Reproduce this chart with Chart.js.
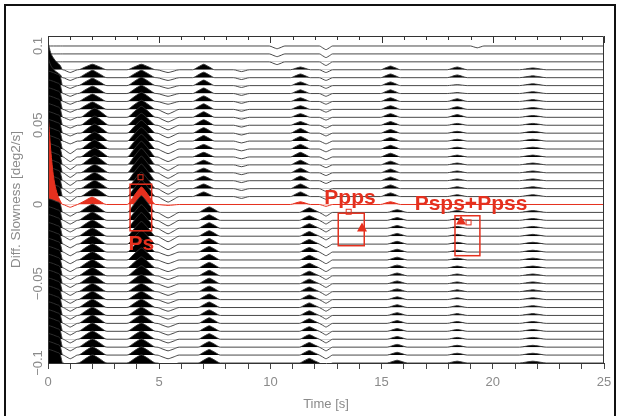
<!DOCTYPE html>
<html lang="en">
<head>
<meta charset="UTF-8">
<title>Slowness stack</title>
<script src="https://cdn.jsdelivr.net/npm/chart.js@4.4.1/dist/chart.umd.min.js"></script>
<style>
  html, body { margin: 0; padding: 0; background: #fff; overflow: hidden; }
  #wrap { position: relative; width: 620px; height: 416px; }
  #frame { position: absolute; left: 4px; top: 4px; width: 612px; height: 430px;
           box-sizing: border-box; border: 2px solid #111; pointer-events: none; }
</style>
</head>
<body>
<div id="wrap">
  <canvas id="chart" width="620" height="416"></canvas>
  <div id="frame"></div>
</div>
<script>
// slowness of each stacked trace (deg2/s), top to bottom
const slowness = [
  0.1, 0.095, 0.09, 0.085, 0.08, 0.075, 0.07, 0.065, 0.06, 0.055,
  0.05, 0.045, 0.04, 0.035, 0.03, 0.025, 0.02, 0.015, 0.01, 0.005,
  0,
  -0.005, -0.01, -0.015, -0.02, -0.025, -0.03, -0.035, -0.04, -0.045, -0.05,
  -0.055, -0.06, -0.065, -0.07, -0.075, -0.08, -0.085, -0.09, -0.095, -0.1
];
const zeroTrace = 20;          // drawn in red
const timeTicks = [0, 5, 10, 15, 20, 25];
const slownessTicks = [0.1, 0.05, 0, -0.05, -0.1];

// direct P wavelet (relative amplitude at these times, s)
const pTime = [0, 0.12, 0.25, 0.4, 0.55, 0.66];
const pShape = [1, 0.95, 0.88, 0.78, 0.62, 0];
const pShapeTop = [1, 0.62, 0.42, 0.27, 0.15, 0];
const pShapeZero = [1, 0.6, 0.3, 0.13, 0.04, 0];
// shape of the later pulses, offsets in half-widths
const pulseOffset = [-1, -0.55, -0.2, 0, 0.2, 0.55, 1];
const pulseShape = [0, 0.45, 0.84, 1, 0.84, 0.45, 0];

// amplitudes in % of the direct P on the zero trace
const ampP = [
  0, 0, 0, 30, 22, 16, 15, 15, 15, 15,
  15, 15, 15, 15, 15, 15, 15, 15, 15, 15,
  100,
  15, 15, 15, 15, 15, 15, 15, 15, 15, 15,
  15, 15, 15, 15, 15, 15, 15, 15, 15, 15
];
const ampDip1 = [
  0, 0, 0, -3, -3, -3, -3, -3, -3, -3,
  -3, -3, -3, -5, -5, -5, -5, -5, -5, -5,
  -3,
  -4, -4, -4, -4, -4, -4, -4, -4, -4, -4,
  -4, -4, -4, -4, -4, -4, -4, -4, -4, -4
];
const timeB = [
  2.0, 2.0, 2.0, 2.0, 2.0, 2.0, 2.0, 2.0, 2.0, 2.1,
  2.1, 2.1, 2.1, 2.1, 2.1, 2.1, 2.1, 2.1, 2.1, 2.1,
  1.98,
  2.0, 2.0, 2.0, 2.0, 2.0, 2.0, 2.0, 2.0, 2.0, 2.0,
  2.0, 2.0, 2.0, 2.0, 2.0, 2.0, 2.0, 2.0, 2.0, 2.0
];
const ampB = [
  0, 0, 0, 6, 8, 8, 8, 8, 8, 10,
  10, 10, 10, 10, 10, 10, 9, 9, 9, 9,
  8,
  9, 9, 9, 9, 9, 9, 9, 9, 9, 9,
  9, 9, 9, 9, 9, 9, 9, 9, 9, 9
];
const ampPs = [
  0, 0, 0, 6, 8, 9, 9, 10, 10, 12,
  13, 14, 15, 16, 17, 18, 18, 18, 18, 18,
  19,
  18, 17, 17, 16, 15, 14, 13, 12, 11, 10,
  9, 9, 9, 9, 9, 9, 9, 9, 9, 9
];
const ampDip2 = [
  0, 0, 0, -3, -3, -3, -3, -3, -5, -5,
  -5, -5, -5, -5, -5, -6, -6, -6, -6, -6,
  -1,
  -6, -6, -6, -6, -6, -4, -4, -4, -4, -4,
  -4, -4, -4, -4, -4, -4, -4, -4, -4, -4
];
const timeD = [
  7.0, 7.0, 7.0, 7.0, 7.0, 7.0, 7.0, 7.0, 7.0, 7.0,
  7.0, 7.0, 7.0, 7.0, 7.0, 7.0, 7.0, 7.0, 7.0, 7.0,
  7.0,
  7.25, 7.25, 7.25, 7.25, 7.25, 7.25, 7.25, 7.25, 7.25, 7.25,
  7.25, 7.25, 7.25, 7.25, 7.25, 7.25, 7.25, 7.25, 7.25, 7.25
];
const ampD = [
  0, 0, 0, 6, 6, 6, 6, 6, 6, 6,
  6, 6, 6, 5, 5, 5, 5, 5, 5, 5,
  0,
  6, 6, 6, 6, 6, 6, 6, 6, 6, 6,
  6, 6, 6, 6, 6, 6, 6, 6, 6, 6
];
const ampE = [
  0, 0, 0, -2, -2, -2, -2, -2, -2, -2,
  -2, -2, -2, -2, -2, -2, -2, -2, -2, -2,
  0,
  0, 0, 0, 0, 0, 0, 0, 0, 0, 0,
  0, 0, 0, 0, 0, 0, 0, 0, 0, 0
];
const ampDip10 = [
  -3, -3, -3, 0, 0, 0, 0, 0, 0, 0,
  0, 0, 0, 0, 0, 0, 0, 0, 0, 0,
  0,
  0, 0, 0, 0, 0, 0, 0, 0, 0, 0,
  0, 0, 0, 0, 0, 0, 0, 0, 0, 0
];
const timeF = [
  11.35, 11.35, 11.35, 11.35, 11.35, 11.35, 11.35, 11.35, 11.35, 11.35,
  11.35, 11.35, 11.35, 11.35, 11.35, 11.35, 11.35, 11.35, 11.35, 11.35,
  11.35,
  11.75, 11.75, 11.75, 11.75, 11.75, 11.75, 11.75, 11.75, 11.75, 11.75,
  11.75, 11.75, 11.75, 11.75, 11.75, 11.75, 11.75, 11.75, 11.75, 11.75
];
const ampF = [
  0, 0, 0, 3, 4, 4, 4, 4, 4, 4,
  4, 5, 5, 5, 5, 5, 5, 5, 5, 5,
  3,
  5, 5, 5, 5, 5, 5, 5, 5, 5, 5,
  5, 5, 5, 5, 5, 5, 5, 5, 5, 5
];
const ampDip3 = [
  -4, -4, -4, -3, -3, -3, -3, -3, -3, -3,
  -3, -3, -3, -3, -3, -3, -3, -3, -3, -3,
  -2,
  -4, -4, -4, -4, -4, -4, -4, -4, -4, -4,
  -4, -4, -4, -4, -4, -4, -4, -4, -4, -4
];
const timeH = [
  15.4, 15.4, 15.4, 15.4, 15.4, 15.4, 15.4, 15.4, 15.4, 15.4,
  15.4, 15.4, 15.4, 15.4, 15.4, 15.4, 15.4, 15.4, 15.4, 15.4,
  15.4,
  15.7, 15.7, 15.7, 15.7, 15.7, 15.7, 15.7, 15.7, 15.7, 15.7,
  15.7, 15.7, 15.7, 15.7, 15.7, 15.7, 15.7, 15.7, 15.7, 15.7
];
const ampH = [
  0, 0, 0, 4, 4, 4, 4, 4, 4, 4,
  4, 4, 4, 4, 4, 4, 4, 4, 4, 4,
  3,
  3, 3, 3, 3, 3, 3, 3, 3, 3, 3,
  3, 3, 3, 3, 3, 3, 3, 3, 3, 3
];
const ampI = [
  0, 0, 0, 3, 3, 1, 1, 3, 3, 3,
  2, 2, 2, 2, 2, 2, 2, 2, 2, 2,
  0,
  2, 2, 2, 2, 2, 2, 2, 2, 2, 2,
  2, 2, 2, 2, 2, 2, 2, 2, 2, 2
];
const ampJ = [
  -2, 0, 0, 0, 0, 0, 0, 0, 0, 0,
  0, 0, 0, 0, 0, 0, 0, 0, 0, 0,
  0,
  0, 0, 0, 0, 0, 0, 0, 0, 0, 0,
  0, 0, 0, 0, 0, 0, 0, 0, 0, 0
];
const ampK = [
  0, 0, 0, 2, 2, 2, 2, 2, 2, 2,
  2, 2, 2, 2, 2, 2, 2, 2, 2, 2,
  0,
  2, 2, 2, 2, 2, 2, 2, 2, 2, 2,
  2, 2, 2, 2, 2, 2, 2, 2, 2, 2
];

// predicted phase windows
const windowLabel = ['Ps', 'Ppps', 'Psps+Ppss'];
const windowStart = [3.69, 13.05, 18.3];
const windowEnd = [4.66, 14.22, 19.42];
const windowTop = [0.0128, -0.0055, -0.0071];
const windowBottom = [-0.0166, -0.026, -0.0323];
const labelTime = [4.2, 13.58, 19.02];
const labelSlow = [-0.0252, 0.0038, 0.0];
const squareTime = [4.16, 13.52, 18.91];
const squareSlow = [0.0172, -0.0046, -0.0113];
const triangleTime = [null, 14.12, 18.57];
const triangleSlow = [null, -0.0145, -0.0101];

const gain = 0.058 / 100;   // % amplitude -> slowness units
const red = '#e5301e';

const phases = [
  { time: 1.0, halfWidth: 0.33, amp: ampDip1 },
  { time: timeB, halfWidth: 0.65, amp: ampB },
  { time: 4.2, halfWidth: 0.65, amp: ampPs },
  { time: 5.4, halfWidth: 0.5, amp: ampDip2 },
  { time: timeD, halfWidth: 0.5, amp: ampD },
  { time: 8.7, halfWidth: 0.35, amp: ampE },
  { time: 10.3, halfWidth: 0.35, amp: ampDip10 },
  { time: timeF, halfWidth: 0.45, amp: ampF },
  { time: 12.5, halfWidth: 0.3, amp: ampDip3 },
  { time: timeH, halfWidth: 0.45, amp: ampH },
  { time: 18.4, halfWidth: 0.45, amp: ampI },
  { time: 19.3, halfWidth: 0.3, amp: ampJ },
  { time: 21.8, halfWidth: 0.6, amp: ampK },
];

function pShapeOf(i) {
  if (i === zeroTrace) return pShapeZero;
  return i < 5 ? pShapeTop : pShape;
}

function traceFor(i) {
  const base = slowness[i];
  const shape = pShapeOf(i);
  const pts = pTime.map((t, k) => ({ x: t, y: base + gain * ampP[i] * shape[k] }));
  phases.forEach(ph => {
    const a = ph.amp[i];
    if (!a) return;
    const t0 = Array.isArray(ph.time) ? ph.time[i] : ph.time;
    pulseOffset.forEach((o, k) => {
      pts.push({ x: t0 + o * ph.halfWidth, y: base + gain * a * pulseShape[k] });
    });
  });
  pts.push({ x: 25, y: base });
  pts.sort((p, q) => p.x - q.x);
  return pts.filter((p, k) => k === 0 || p.x > pts[k - 1].x + 1e-6);
}

// traces are drawn top to bottom, each one over the previous
const datasets = slowness.map((s, i) => {
  const isZero = i === zeroTrace;
  return {
    data: traceFor(i),
    borderColor: isZero ? red : '#333',
    borderWidth: isZero ? 1 : 0.9,
    fill: { target: { value: s }, above: isZero ? red : '#000', below: 'rgba(0,0,0,0)' },
    pointRadius: 0,
    cubicInterpolationMode: 'monotone',
    order: slowness.length - i,
  };
});

// frame, inward top ticks and the phase windows
const overlay = {
  id: 'overlay',
  afterDatasetsDraw(chart) {
    const { ctx, chartArea: a, scales: { x, y } } = chart;
    ctx.save();
    ctx.strokeStyle = '#333';
    ctx.lineWidth = 1;
    ctx.beginPath();
    ctx.moveTo(a.left + 0.5, a.bottom);
    ctx.lineTo(a.left + 0.5, a.top + 0.5);
    ctx.lineTo(a.right - 0.5, a.top + 0.5);
    ctx.lineTo(a.right - 0.5, a.bottom);
    ctx.stroke();
    x.ticks.forEach(t => {
      const px = Math.round(x.getPixelForValue(t.value)) + 0.5;
      const len = timeTicks.includes(t.value) ? 7 : 4;
      ctx.beginPath();
      ctx.moveTo(px, a.top);
      ctx.lineTo(px, a.top + len);
      ctx.stroke();
    });

    ctx.strokeStyle = red;
    ctx.fillStyle = red;
    ctx.lineWidth = 1.5;
    windowLabel.forEach((lab, k) => {
      const x0 = x.getPixelForValue(windowStart[k]);
      const x1 = x.getPixelForValue(windowEnd[k]);
      const y0 = y.getPixelForValue(windowTop[k]);
      const y1 = y.getPixelForValue(windowBottom[k]);
      ctx.strokeRect(x0, y0, x1 - x0, y1 - y0);

      const sx = x.getPixelForValue(squareTime[k]);
      const sy = y.getPixelForValue(squareSlow[k]);
      ctx.lineWidth = 1;
      ctx.strokeRect(sx - 2.5, sy - 2.5, 5, 5);
      ctx.lineWidth = 1.5;

      if (triangleTime[k] !== null) {
        const tx = x.getPixelForValue(triangleTime[k]);
        const ty = y.getPixelForValue(triangleSlow[k]);
        ctx.beginPath();
        ctx.moveTo(tx, ty - 5);
        ctx.lineTo(tx + 5, ty + 4);
        ctx.lineTo(tx - 5, ty + 4);
        ctx.closePath();
        ctx.fill();
      }

      ctx.font = 'bold 21px "Liberation Sans", Arial, sans-serif';
      ctx.textAlign = 'center';
      ctx.textBaseline = 'middle';
      ctx.fillText(lab, x.getPixelForValue(labelTime[k]), y.getPixelForValue(labelSlow[k]));
    });
    ctx.restore();
  }
};

Chart.defaults.font.family = '"Liberation Sans", Arial, sans-serif';

new Chart(document.getElementById('chart'), {
  type: 'line',
  data: { datasets },
  options: {
    responsive: false,
    animation: false,
    events: [],
    layout: { padding: { left: 0, top: 36, right: 16, bottom: 0 } },
    plugins: { legend: { display: false }, tooltip: { enabled: false } },
    scales: {
      x: {
        type: 'linear',
        min: 0,
        max: 25,
        afterFit: s => { s.height = 53; },
        grid: { drawOnChartArea: false, drawTicks: true, tickLength: 6, color: '#444' },
        border: { display: true, color: '#333' },
        ticks: {
          stepSize: 1, autoSkip: false, maxRotation: 0, padding: 6,
          color: '#8a8a8a', font: { size: 13 },
          callback: v => timeTicks.includes(v) ? String(v) : ''
        },
        title: { display: true, text: 'Time [s]', color: '#8a8a8a',
                 font: { size: 13 }, padding: { top: 0, bottom: 4 } }
      },
      y: {
        type: 'linear',
        min: -0.1,
        max: 0.1063,
        afterFit: s => { s.width = 48; },
        afterBuildTicks: s => { s.ticks = slownessTicks.map(v => ({ value: v })); },
        grid: { display: false, drawTicks: false },
        border: { display: false },
        ticks: {
          minRotation: 90, maxRotation: 90, crossAlign: 'center', padding: -7,
          color: '#8a8a8a', font: { size: 13 },
          callback: v => v < 0 ? '\u2212' + Math.abs(v) : String(v)
        },
        title: { display: true, text: 'Diff. Slowness [deg2/s]', color: '#8a8a8a',
                 font: { size: 13.5 }, padding: { top: 8, bottom: 0 } }
      }
    }
  },
  plugins: [overlay]
});
</script>
</body>
</html>
